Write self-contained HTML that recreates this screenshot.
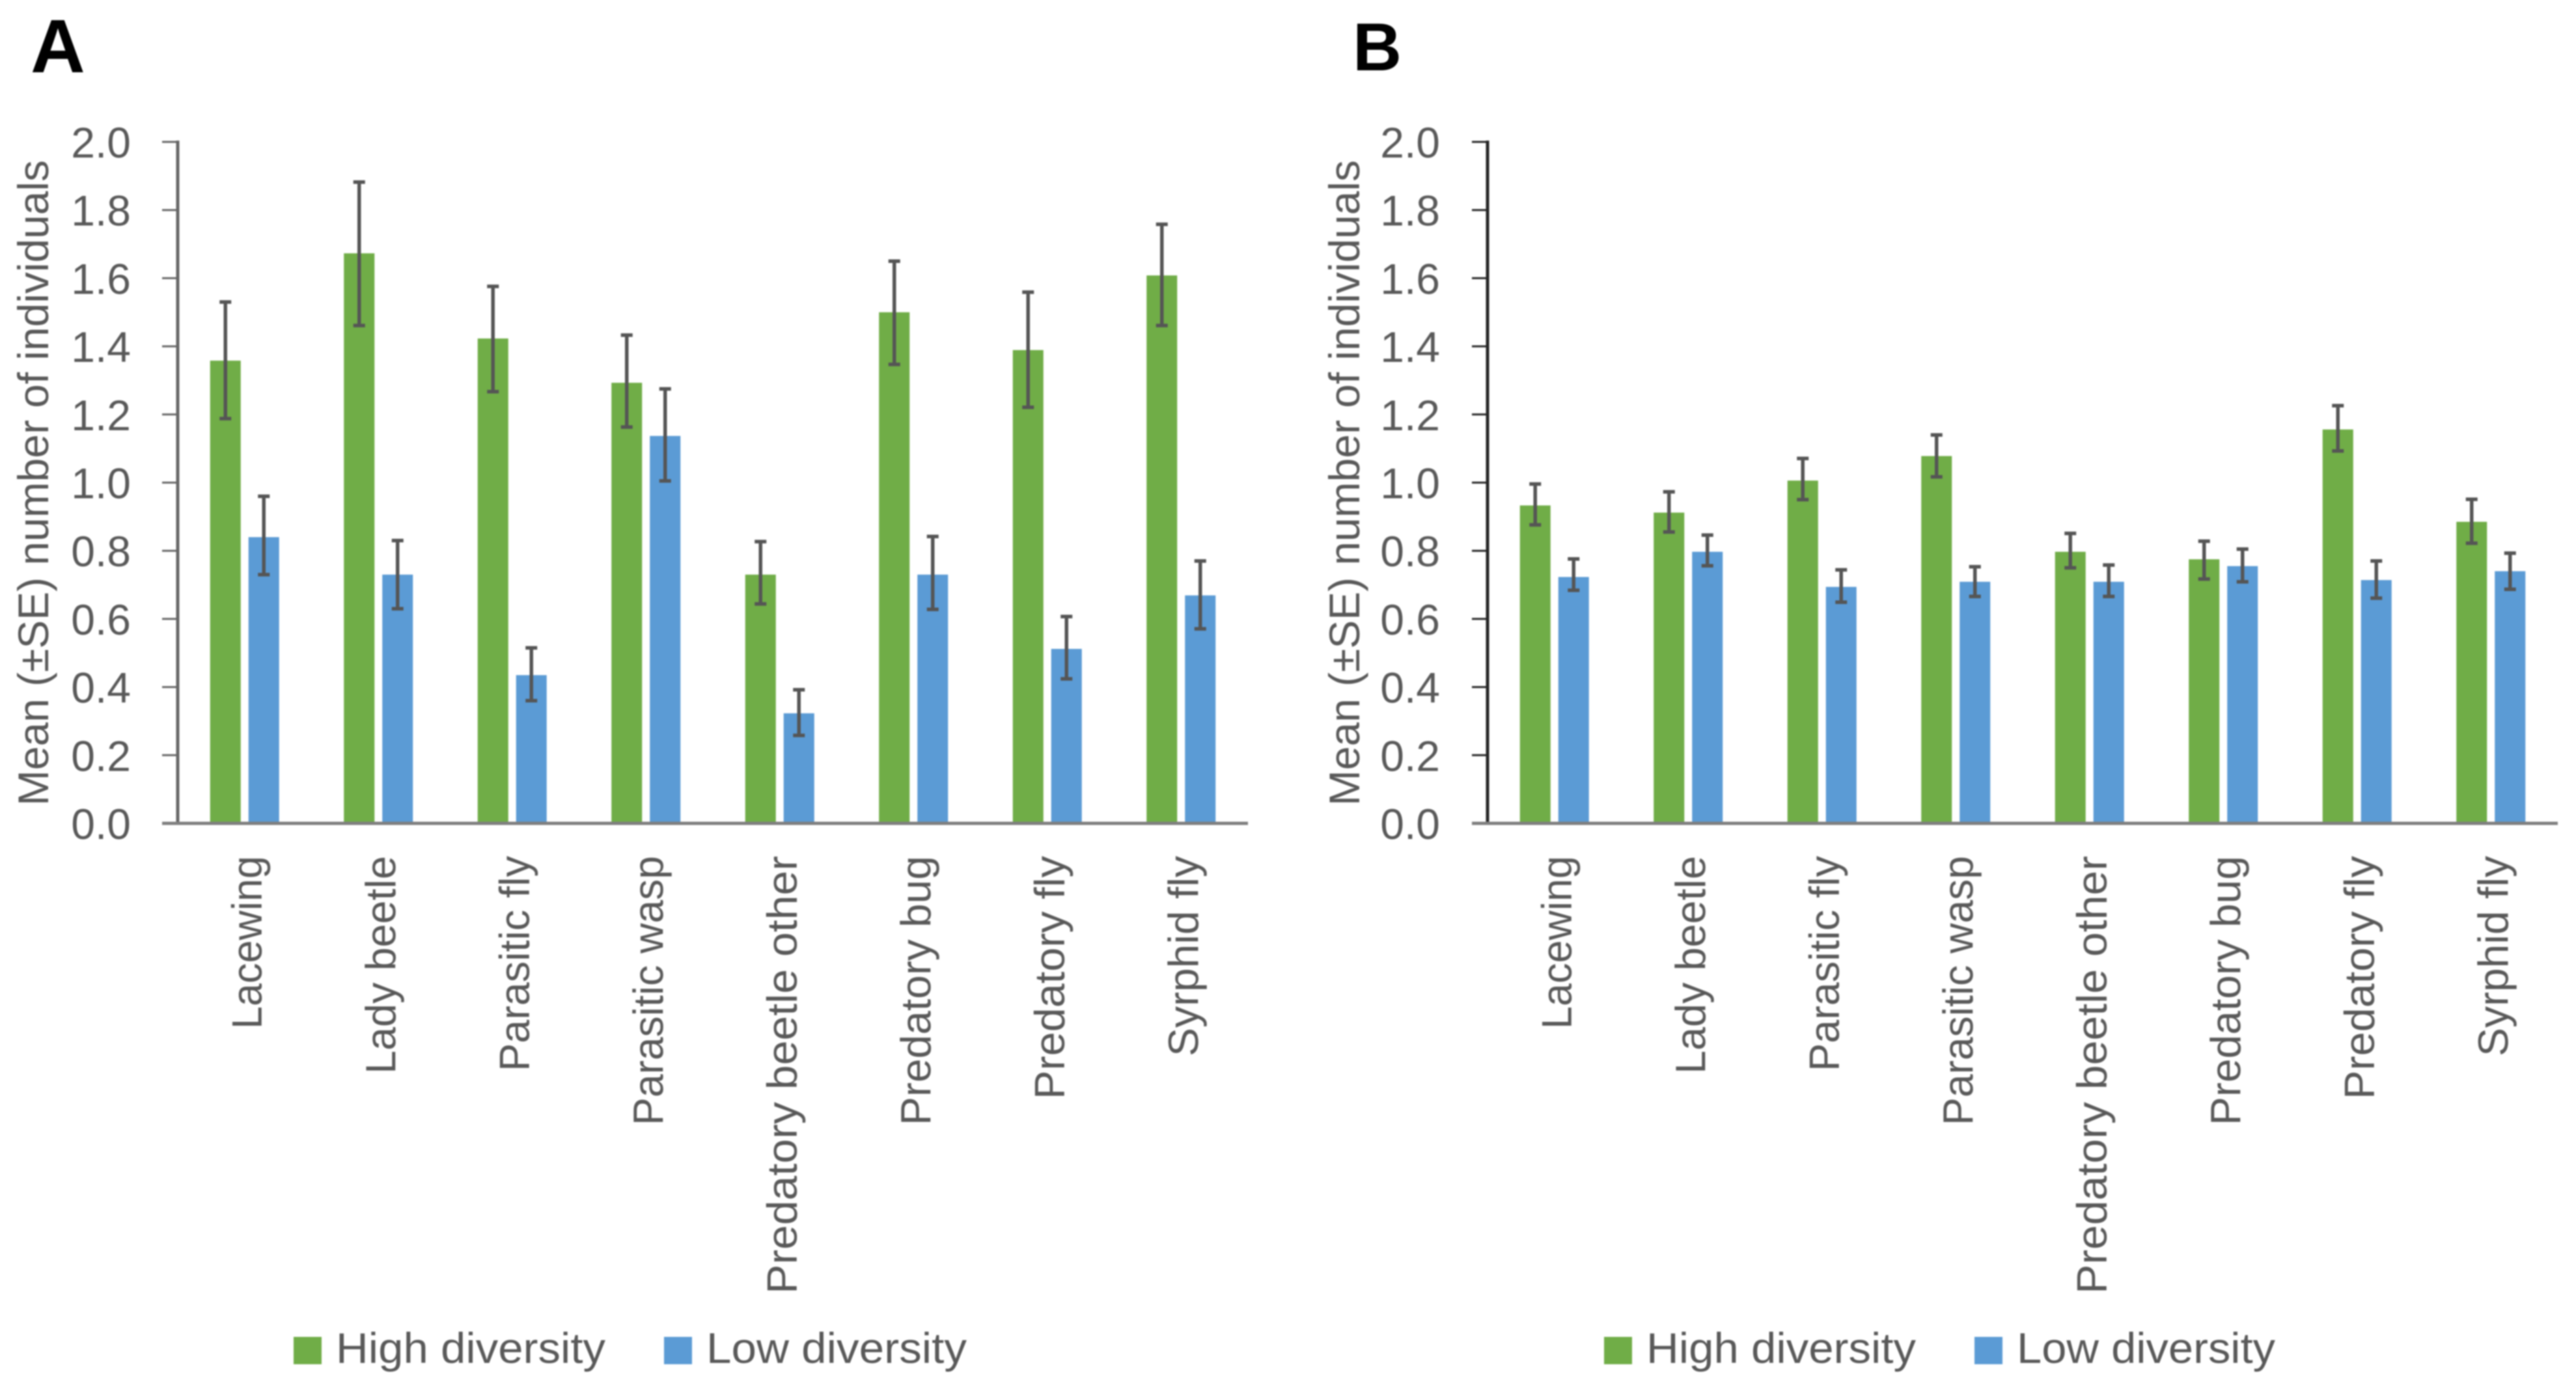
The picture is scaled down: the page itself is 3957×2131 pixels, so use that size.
<!DOCTYPE html>
<html lang="en">
<head>
<meta charset="utf-8">
<title>Mean number of natural enemies by plant diversity</title>
<style>
  html, body { margin: 0; padding: 0; background: #fff; }
  svg { display: block; }
  text { font-family: "Liberation Sans", sans-serif; fill: #595959; }
  .soft { filter: blur(1px); }
</style>
</head>
<body>
<svg id="figure" xmlns="http://www.w3.org/2000/svg" width="3957" height="2131" viewBox="0 0 3957 2131">
  <rect x="0" y="0" width="3957" height="2131" fill="#ffffff"/>
  <text class="soft" x="47" y="111" font-size="116" font-weight="700" style="fill:#000">A</text>
  <text class="soft" x="2078" y="108" font-size="104" font-weight="700" style="fill:#000">B</text>
</svg>
<script>
const categories = ["Lacewing", "Lady beetle", "Parasitic fly", "Parasitic wasp", "Predatory beetle other", "Predatory bug", "Predatory fly", "Syrphid fly"];
const tickValues = [0, 0.2, 0.4, 0.6, 0.8, 1.0, 1.2, 1.4, 1.6, 1.8, 2.0];
const tickLabels = ["0.0", "0.2", "0.4", "0.6", "0.8", "1.0", "1.2", "1.4", "1.6", "1.8", "2.0"];
const seriesNames = ["High diversity", "Low diversity"];

const highMeanA = [1.358, 1.673, 1.423, 1.293, 0.730, 1.500, 1.389, 1.608];
const highUpperA = [1.530, 1.882, 1.576, 1.433, 0.827, 1.650, 1.559, 1.758];
const highLowerA = [1.188, 1.461, 1.267, 1.163, 0.644, 1.347, 1.221, 1.461];
const lowMeanA = [0.840, 0.730, 0.435, 1.137, 0.323, 0.730, 0.512, 0.669];
const lowUpperA = [0.960, 0.830, 0.515, 1.275, 0.392, 0.842, 0.607, 0.770];
const lowLowerA = [0.730, 0.630, 0.360, 1.005, 0.258, 0.628, 0.424, 0.571];

const highMeanB = [0.933, 0.912, 1.006, 1.078, 0.797, 0.775, 1.156, 0.885];
const highUpperB = [0.996, 0.973, 1.071, 1.140, 0.851, 0.828, 1.226, 0.951];
const highLowerB = [0.876, 0.855, 0.950, 1.017, 0.750, 0.717, 1.093, 0.822];
const lowMeanB = [0.723, 0.797, 0.694, 0.709, 0.709, 0.755, 0.714, 0.740];
const lowUpperB = [0.776, 0.846, 0.744, 0.753, 0.758, 0.805, 0.770, 0.793];
const lowLowerB = [0.684, 0.756, 0.649, 0.666, 0.666, 0.709, 0.661, 0.687];

const NS = "http://www.w3.org/2000/svg";
const figure = document.getElementById("figure");

function make(parent, tag, attrs, content) {
  const node = document.createElementNS(NS, tag);
  for (const key in attrs) node.setAttribute(key, attrs[key]);
  if (content !== undefined) node.textContent = content;
  parent.appendChild(node);
  return node;
}

function drawPanel(id, layout, high, low) {
  const yZero = 1265, yTop = 218, yMax = 2;
  const step = 205.5, barWidth = 47, barGap = 12;
  const yScale = v => yZero - (v / yMax) * (yZero - yTop);
  const xCenter = i => layout.axisX + step * (i + 0.5);
  const colors = ["#70AD47", "#5B9BD5"];
  const labelFit = {
    "Lacewing": 266, "Lady beetle": 335, "Parasitic fly": 331, "Parasitic wasp": 414,
    "Predatory beetle other": 673, "Predatory bug": 414, "Predatory fly": 374, "Syrphid fly": 308
  };

  const panel = make(figure, "g", { class: "soft" });
  
  

  const title = make(panel, "text", {
    transform: "translate(" + layout.titleX + " 1238) rotate(-90)",
    "font-size": 66, textLength: 992, lengthAdjust: "spacingAndGlyphs"
  }, "Mean (\u00B1SE) number of individuals");
  
  

  [high, low].forEach((series, s) => {
    series.mean.forEach((value, i) => {
      const x = s === 0 ? xCenter(i) - barGap / 2 - barWidth : xCenter(i) + barGap / 2;
      const bar = make(panel, "rect", {
        x: x, y: yScale(value), width: barWidth, height: yZero - yScale(value), fill: colors[s]
      });
      
      
    });
  });

  [high, low].forEach((series, s) => {
    series.mean.forEach((value, i) => {
      const cx = (s === 0 ? xCenter(i) - barGap / 2 - barWidth : xCenter(i) + barGap / 2) + barWidth / 2;
      const top = yScale(series.upper[i]);
      const bottom = yScale(series.lower[i]);
      const d = "M" + cx + " " + top + "V" + bottom + "M" + (cx - 9) + " " + top + "H" + (cx + 9) + "M" + (cx - 9) + " " + bottom + "H" + (cx + 9);
      const err = make(panel, "path", { d: d, fill: "none", stroke: "#555555", "stroke-width": 5.5 });
      
      
    });
  });

  const yAxis = make(panel, "line", {
    x1: layout.axisX, x2: layout.axisX, y1: yTop - 2, y2: yZero, stroke: layout.axisColor, "stroke-width": 5
  });
  
  

  tickValues.forEach((value, i) => {
    const y = yScale(value);
    if (i > 0) {
      const tick = make(panel, "line", {
        x1: layout.axisX - 24, x2: layout.axisX, y1: y, y2: y, stroke: layout.axisColor, "stroke-width": 3
      });
      
      
    }
    const label = make(panel, "text", {
      x: layout.tickLabelX, y: y + 24, "text-anchor": "end", "font-size": 66
    }, tickLabels[i]);
    
    
  });

  const xAxis = make(panel, "line", {
    x1: layout.axisX - 24, x2: layout.axisX + step * categories.length, y1: yZero, y2: yZero, stroke: "#7f7f7f", "stroke-width": 5
  });
  
  

  categories.forEach((name, i) => {
    const label = make(panel, "text", {
      transform: "translate(" + (xCenter(i) + 26) + " 1315) rotate(-90)",
      "text-anchor": "end", "font-size": 65, textLength: labelFit[name], lengthAdjust: "spacingAndGlyphs"
    }, name);
    
    
  });

  seriesNames.forEach((name, s) => {
    const entry = make(panel, "g", {});
    
    
    const swatch = make(entry, "rect", {
      x: layout.legendX[s], y: 2054, width: 43, height: 42, fill: colors[s]
    });
    
    
    const text = make(entry, "text", {
      x: layout.legendX[s] + 65, y: 2094, "font-size": 66,
      textLength: layout.legendLen[s], lengthAdjust: "spacingAndGlyphs"
    }, name);
    
    
  });
}

drawPanel("a",
  { axisX: 273, tickLabelX: 201, titleX: 74, axisColor: "#666666", legendX: [451, 1020], legendLen: [414, 400] },
  { mean: highMeanA, upper: highUpperA, lower: highLowerA },
  { mean: lowMeanA, upper: lowUpperA, lower: lowLowerA });

drawPanel("b",
  { axisX: 2285, tickLabelX: 2212, titleX: 2088, axisColor: "#262626", legendX: [2464, 3033], legendLen: [414, 397] },
  { mean: highMeanB, upper: highUpperB, lower: highLowerB },
  { mean: lowMeanB, upper: lowUpperB, lower: lowLowerB });
</script>
</body>
</html>
